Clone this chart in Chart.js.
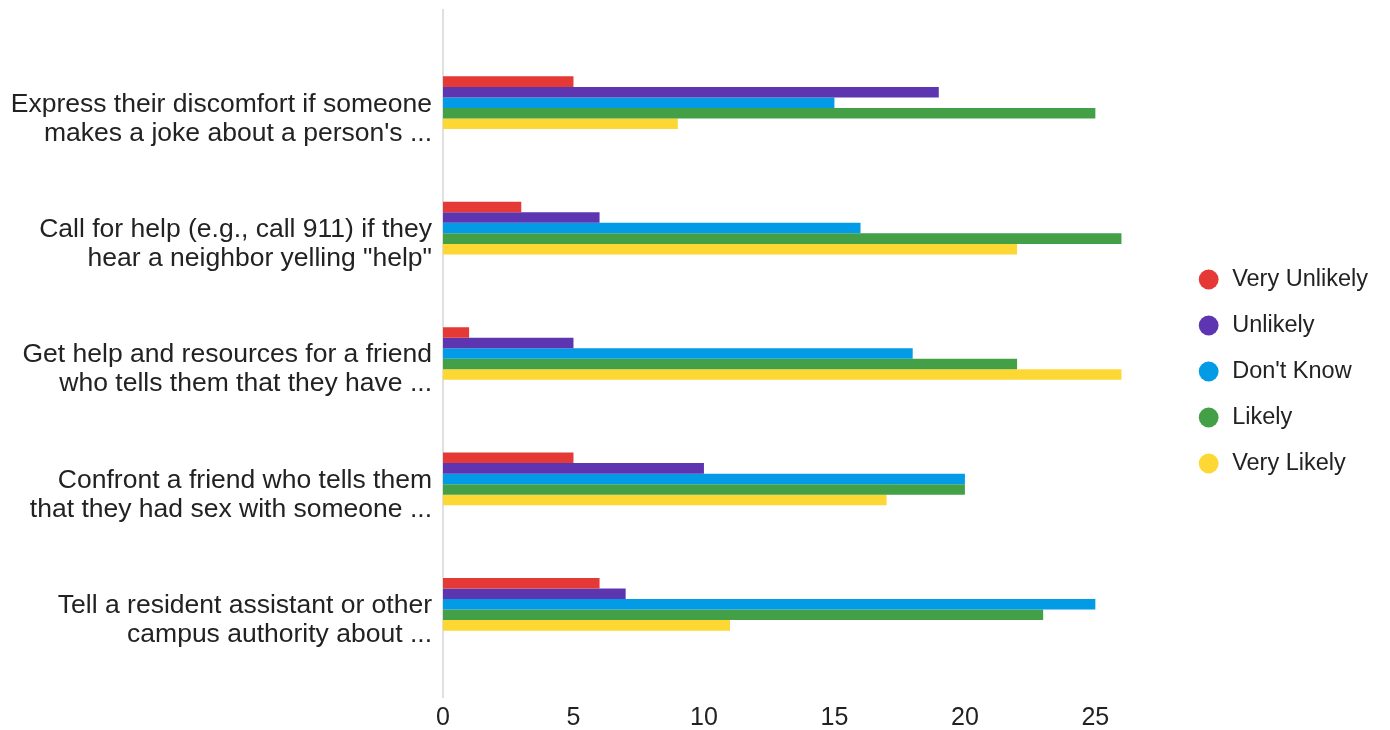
<!DOCTYPE html>
<html>
<head>
<meta charset="utf-8">
<script src="https://cdn.jsdelivr.net/npm/chart.js@4.4.1/dist/chart.umd.min.js"></script>
<style>
  html, body { margin: 0; padding: 0; background: #fff; }
  #wrap { width: 1390px; height: 730px; }
</style>
</head>
<body>
<div id="wrap"><canvas id="myChart"></canvas></div>
<script>
const categories = [
  ["Express their discomfort if someone", "makes a joke about a person's ..."],
  ["Call for help (e.g., call 911) if they", "hear a neighbor yelling \"help\""],
  ["Get help and resources for a friend", "who tells them that they have ..."],
  ["Confront a friend who tells them", "that they had sex with someone ..."],
  ["Tell a resident assistant or other", "campus authority about ..."]
];
const veryUnlikely = [5, 3, 1, 5, 6];
const unlikely = [19, 6, 5, 10, 7];
const dontKnow = [15, 16, 18, 20, 25];
const likely = [25, 26, 22, 20, 23];
const veryLikely = [9, 22, 26, 17, 11];
const xTicks = [0, 5, 10, 15, 20, 25];

const font = "Arial, 'Liberation Sans', sans-serif";

// light gray axis line at zero, runs a bit past the bars
const zeroLine = {
  id: "zeroLine",
  beforeDatasetsDraw(chart) {
    const {ctx, chartArea} = chart;
    const x = chart.scales.x.getPixelForValue(0);
    ctx.save();
    ctx.strokeStyle = "#e0e0e0";
    ctx.lineWidth = 2;
    ctx.beginPath();
    ctx.moveTo(x, chartArea.top - 31);
    ctx.lineTo(x, chartArea.bottom + 31);
    ctx.stroke();
    ctx.restore();
  }
};

const data = {
  labels: categories,
  datasets: [
    {label: "Very Unlikely", data: veryUnlikely, backgroundColor: "#e53935"},
    {label: "Unlikely", data: unlikely, backgroundColor: "#5e35b1"},
    {label: "Don't Know", data: dontKnow, backgroundColor: "#039be5"},
    {label: "Likely", data: likely, backgroundColor: "#43a047"},
    {label: "Very Likely", data: veryLikely, backgroundColor: "#fdd835"}
  ]
};

const config = {
  type: "bar",
  data: data,
  plugins: [zeroLine],
  options: {
    indexAxis: "y",
    responsive: true,
    maintainAspectRatio: false,
    animation: false,
    layout: {
      padding: {top: 13, right: 12, bottom: 0, left: 0}
    },
    datasets: {
      bar: {
        barPercentage: 1,
        categoryPercentage: 0.42
      }
    },
    scales: {
      x: {
        min: 0,
        max: 28.03,
        afterBuildTicks(scale) {
          scale.ticks = xTicks.map(v => ({value: v}));
        },
        afterFit(scale) {
          scale.height = 63;
        },
        grid: {display: false, drawTicks: false},
        border: {display: false},
        ticks: {
          padding: 36,
          color: "#222",
          font: {family: font, size: 25}
        }
      },
      // empty top axis, only keeps the space above the bars
      top: {
        type: "linear",
        axis: "x",
        position: "top",
        afterFit(scale) {
          scale.height = 24;
        },
        grid: {display: false, drawTicks: false},
        border: {display: false},
        ticks: {display: false}
      },
      y: {
        afterFit(scale) {
          scale.width = 443;
        },
        grid: {display: false, drawTicks: false},
        border: {display: false},
        ticks: {
          padding: 11,
          labelOffset: 16,
          color: "#222",
          font: {family: font, size: 26.5, lineHeight: "29px"}
        }
      }
    },
    plugins: {
      tooltip: {enabled: false},
      legend: {
        position: "right",
        labels: {
          usePointStyle: true,
          pointStyle: "circle",
          boxWidth: 24,
          boxHeight: 14,
          padding: 22.5,
          color: "#222",
          font: {family: font, size: 23.5}
        }
      }
    }
  }
};

const myChart = new Chart(document.getElementById("myChart"), config);
</script>
</body>
</html>
